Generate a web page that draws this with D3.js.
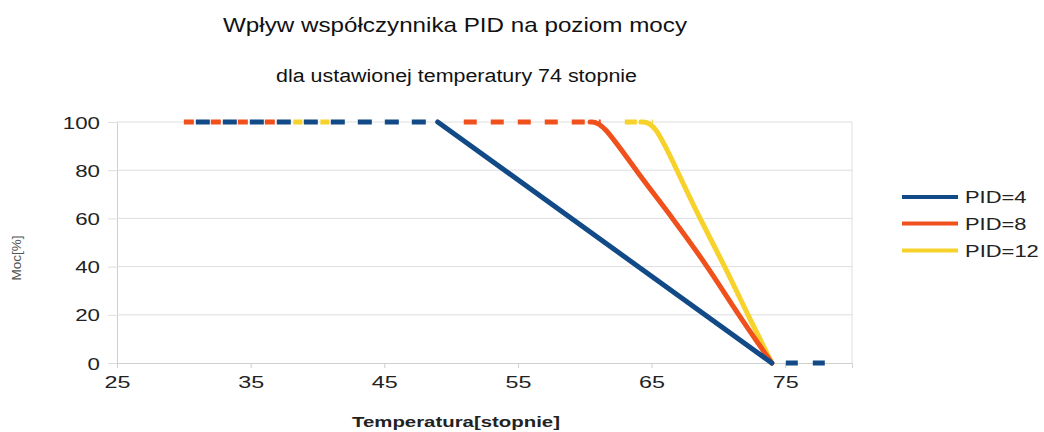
<!DOCTYPE html>
<html>
<head>
<meta charset="utf-8">
<script src="https://cdn.jsdelivr.net/npm/d3@7"></script>
<style>
  html, body { margin: 0; padding: 0; background: #fff; }
  svg { display: block; font-family: "Liberation Sans", Arial, sans-serif; }
</style>
</head>
<body>
<svg id="chart" width="1044" height="432"></svg>
<script>
// ---- data ----
const chartTitle = "Wpływ współczynnika PID na poziom mocy";
const chartSubtitle = "dla ustawionej temperatury 74 stopnie";
const xTitle = "Temperatura[stopnie]";
const yTitle = "Moc[%]";
const xTicks = [25, 35, 45, 55, 65, 75];
const yTicks = [0, 20, 40, 60, 80, 100];
const seriesNames = ["PID=4", "PID=8", "PID=12"];
const seriesColors = ["#114a86", "#f0501c", "#f7d22a"];

// PID=4
const pid4Flat = [[30, 100], [49, 100]];
const pid4Drop = [[49, 100], [74, 0]];
const pid4Tail = [[74, 0], [78, 0]];
// PID=8
const pid8FlatA = [[30, 100], [37.3, 100]];
const pid8FlatB = [[49.9, 100], [61.2, 100]];
const pid8Drop = [[60.4, 100], [61.3, 100], [63.8, 80], [66.6, 60], [69.2, 40], [71.5, 20], [74, 0]];
// PID=12
const pid12FlatA = [[38.2, 100], [41, 100]];
const pid12FlatB = [[63, 100], [65.1, 100]];
const pid12Drop = [[64.2, 100], [65.2, 100], [66.9, 80], [68.6, 60], [70.5, 40], [72.2, 20], [74, 0]];

// ---- chart ----
const svg = d3.select("#chart");
const x = d3.scaleLinear().domain([25, 80]).range([117, 852]);
const y = d3.scaleLinear().domain([0, 100]).range([363, 122]);
const gridColor = "#dedede";

// titles
svg.append("text").attr("x", 223).attr("y", 32)
  .attr("font-size", 21).attr("fill", "#111")
  .attr("textLength", 464).attr("lengthAdjust", "spacingAndGlyphs")
  .text(chartTitle);
svg.append("text").attr("x", 276).attr("y", 82)
  .attr("font-size", 18).attr("fill", "#111")
  .attr("textLength", 361).attr("lengthAdjust", "spacingAndGlyphs")
  .text(chartSubtitle);

// grid + y axis
const yAxis = d3.axisLeft(y).tickValues(yTicks).tickSize(9).tickPadding(8);
const gy = svg.append("g").attr("transform", `translate(${x(25)},0)`).call(yAxis);
gy.select(".domain").attr("stroke", "#cfcfcf");
gy.selectAll(".tick line").attr("stroke", gridColor);
gy.selectAll(".tick text")
  .attr("font-size", 17).attr("fill", "#222").attr("dy", "0.36em")
  .attr("font-family", "Liberation Sans, Arial, sans-serif")
  .attr("textLength", d => String(d).length * 12.4)
  .attr("lengthAdjust", "spacingAndGlyphs");

svg.append("g").selectAll("line").data(yTicks.filter(d => d > 0)).join("line")
  .attr("x1", x(25)).attr("x2", x(80))
  .attr("y1", d => y(d)).attr("y2", d => y(d))
  .attr("stroke", gridColor).attr("stroke-width", 1);
svg.append("line").attr("x1", x(80)).attr("x2", x(80))
  .attr("y1", y(100)).attr("y2", y(0)).attr("stroke", gridColor);

// x axis
const xAxis = d3.axisBottom(x).tickValues(xTicks).tickSize(5).tickPadding(8);
const gx = svg.append("g").attr("transform", `translate(0,${y(0)})`).call(xAxis);
gx.select(".domain").attr("stroke", "#cfcfcf");
gx.selectAll(".tick line").attr("stroke", "#cfcfcf");
gx.selectAll(".tick text")
  .attr("font-size", 17).attr("fill", "#222")
  .attr("font-family", "Liberation Sans, Arial, sans-serif")
  .attr("textLength", d => String(d).length * 13)
  .attr("lengthAdjust", "spacingAndGlyphs");

// axis titles
svg.append("text").attr("x", 352).attr("y", 427)
  .attr("font-size", 15).attr("font-weight", "bold").attr("fill", "#222")
  .attr("textLength", 208).attr("lengthAdjust", "spacingAndGlyphs")
  .text(xTitle);
svg.append("text")
  .attr("transform", "translate(21,258) rotate(-90)")
  .attr("text-anchor", "middle")
  .attr("font-size", 12).attr("fill", "#555")
  .attr("textLength", 45).attr("lengthAdjust", "spacingAndGlyphs")
  .text(yTitle);

// lines
const lineStraight = d3.line().x(d => x(d[0])).y(d => y(d[1]));
const lineCurve = d3.line().x(d => x(d[0])).y(d => y(d[1])).curve(d3.curveBasis);
const lw = 5;
function draw(data, color, gen, dash, offset) {
  const p = svg.append("path").datum(data)
    .attr("d", gen).attr("fill", "none")
    .attr("stroke", color).attr("stroke-width", lw)
    .attr("stroke-linejoin", "round");
  if (dash) p.attr("stroke-dasharray", dash).attr("stroke-dashoffset", offset || 0);
  else p.attr("stroke-linecap", "round");
  return p;
}

// flat dashed segments
draw(pid8FlatA, seriesColors[1], lineStraight, "10,17", 0);
draw(pid12FlatA, seriesColors[2], lineStraight, "9,18", 0);
draw(pid4Flat, seriesColors[0], lineStraight, "14,13", 15);
draw(pid8FlatB, seriesColors[1], lineStraight, "13,14", 13);
draw(pid12FlatB, seriesColors[2], lineStraight, "12,15", 0);
draw(pid4Tail, seriesColors[0], lineStraight, "12,15", 13);

// descending solid segments
draw(pid12Drop, seriesColors[2], lineCurve);
draw(pid8Drop, seriesColors[1], lineCurve);
draw(pid4Drop, seriesColors[0], lineStraight);

// legend
const legendY = [197, 223.5, 250.5];
const lg = svg.append("g");
seriesNames.forEach((name, i) => {
  lg.append("line").attr("x1", 902).attr("x2", 958)
    .attr("y1", legendY[i]).attr("y2", legendY[i])
    .attr("stroke", seriesColors[i]).attr("stroke-width", 4);
  lg.append("text").attr("x", 965).attr("y", legendY[i]).attr("dy", "0.36em")
    .attr("font-size", 17).attr("fill", "#222")
    .attr("textLength", name.length * 12.3).attr("lengthAdjust", "spacingAndGlyphs")
    .text(name);
});
</script>
</body>
</html>
